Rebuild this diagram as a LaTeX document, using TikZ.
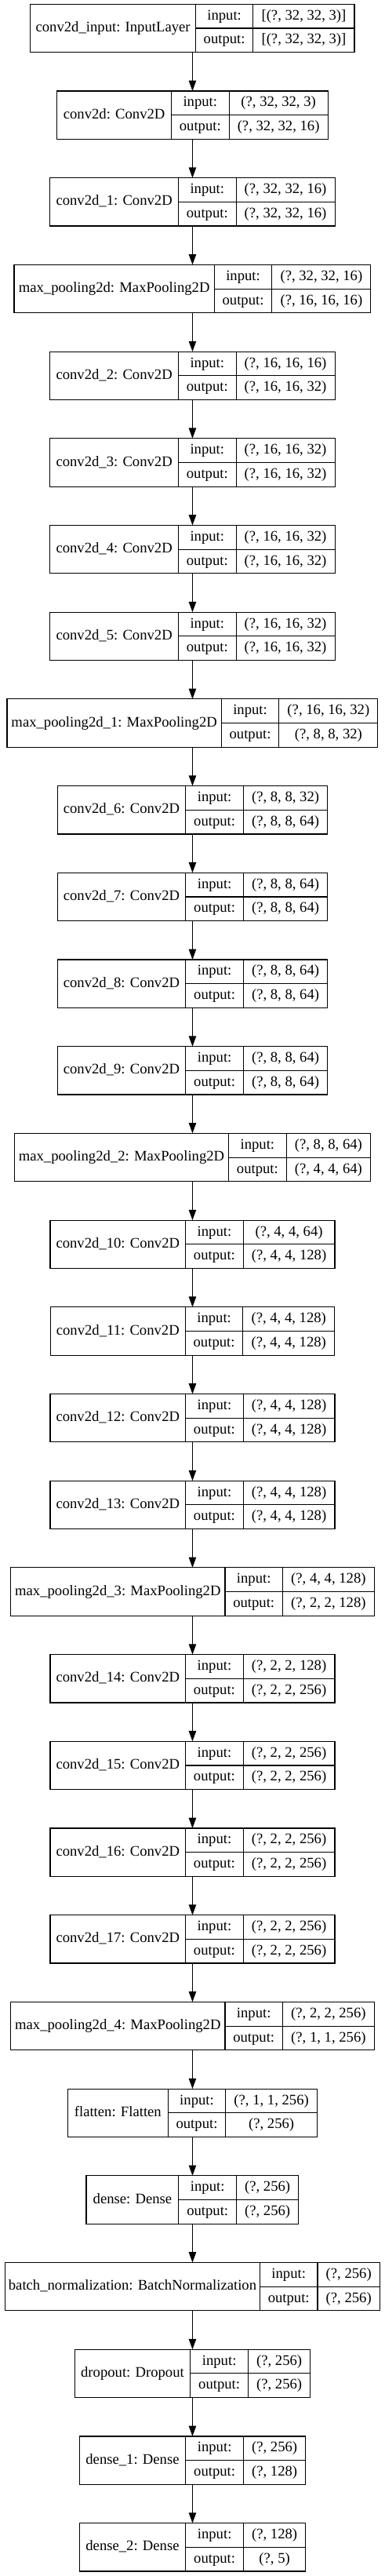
\documentclass[tikz,border=0pt]{standalone}
\usepackage{fontspec}
\setmainfont{Liberation Serif}
\usetikzlibrary{arrows.meta}
\newcommand\lf{\fontsize{14}{16.8}\selectfont}
\newlength\wa \newlength\wb \newlength\wc \newlength\wtmp \newlength\wtot
\tikzset{
  layer/.style={draw, line width=0.85pt, inner sep=0pt, outer sep=0pt, minimum height=46pt},
  cell/.style={line width=0.85pt},
  txt/.style={font=\lf, inner sep=0pt, text height=9.7pt, text depth=2.8pt},
  arr/.style={line width=1pt, -{Triangle[length=10pt,width=7pt]}}
}
\newcommand\measure[3]{%
  \pgfinterruptpicture
  \settowidth\wtmp{\normalfont\lf #1}\global\wa=0.96\wtmp
  \settowidth\wtmp{\normalfont\lf output:}\global\wb=\wtmp
  \settowidth\wtmp{\normalfont\lf #2}\global\wc=\wtmp
  \settowidth\wtmp{\normalfont\lf #3}%
  \ifdim\wtmp>\wc \global\wc=\wtmp\fi
  \endpgfinterruptpicture
}
\newcommand\layerbox[5]{%
  \measure{#3}{#4}{#5}%
  \addtolength\wa{16pt}\addtolength\wb{15.5pt}\addtolength\wc{16pt}%
  \setlength\wtot{\wa}\addtolength\wtot{\wb}\addtolength\wtot{\wc}%
  \pgfmathsetmacro\ytop{-(3.975+#2*83.025)}%
  \node[layer, minimum width=\wtot, anchor=north] (#1) at (184.1pt,\ytop pt) {};
  \draw[cell] ([xshift=\wa]#1.north west) -- ([xshift=\wa]#1.south west);
  \draw[cell] ([xshift={\wa+\wb}]#1.north west) -- ([xshift={\wa+\wb}]#1.south west);
  \draw[cell] ([xshift=\wa]#1.west) -- (#1.east);
  \node[txt] (#1n) at ([xshift=0.5\wa]#1.west) {#3};
  \node[txt] (#1a) at ([xshift={\wa+0.5\wb}, yshift=11.5pt]#1.west) {input:};
  \node[txt] (#1b) at ([xshift={\wa+0.5\wb}, yshift=-11.5pt]#1.west) {output:};
  \node[txt] (#1c) at ([xshift={\wa+\wb+0.5\wc}, yshift=11.5pt]#1.west) {#4};
  \node[txt] (#1d) at ([xshift={\wa+\wb+0.5\wc}, yshift=-11.5pt]#1.west) {#5};
}
\begin{document}
\begin{tikzpicture}
\useasboundingbox (0,0) rectangle (368.25pt,-2462.25pt);
\layerbox{L0}{0}{conv2d\_input: InputLayer}{[(?, 32, 32, 3)]}{[(?, 32, 32, 3)]}
\layerbox{L1}{1}{conv2d: Conv2D}{(?, 32, 32, 3)}{(?, 32, 32, 16)}
\layerbox{L2}{2}{conv2d\_1: Conv2D}{(?, 32, 32, 16)}{(?, 32, 32, 16)}
\layerbox{L3}{3}{max\_pooling2d: MaxPooling2D}{(?, 32, 32, 16)}{(?, 16, 16, 16)}
\layerbox{L4}{4}{conv2d\_2: Conv2D}{(?, 16, 16, 16)}{(?, 16, 16, 32)}
\layerbox{L5}{5}{conv2d\_3: Conv2D}{(?, 16, 16, 32)}{(?, 16, 16, 32)}
\layerbox{L6}{6}{conv2d\_4: Conv2D}{(?, 16, 16, 32)}{(?, 16, 16, 32)}
\layerbox{L7}{7}{conv2d\_5: Conv2D}{(?, 16, 16, 32)}{(?, 16, 16, 32)}
\layerbox{L8}{8}{max\_pooling2d\_1: MaxPooling2D}{(?, 16, 16, 32)}{(?, 8, 8, 32)}
\layerbox{L9}{9}{conv2d\_6: Conv2D}{(?, 8, 8, 32)}{(?, 8, 8, 64)}
\layerbox{L10}{10}{conv2d\_7: Conv2D}{(?, 8, 8, 64)}{(?, 8, 8, 64)}
\layerbox{L11}{11}{conv2d\_8: Conv2D}{(?, 8, 8, 64)}{(?, 8, 8, 64)}
\layerbox{L12}{12}{conv2d\_9: Conv2D}{(?, 8, 8, 64)}{(?, 8, 8, 64)}
\layerbox{L13}{13}{max\_pooling2d\_2: MaxPooling2D}{(?, 8, 8, 64)}{(?, 4, 4, 64)}
\layerbox{L14}{14}{conv2d\_10: Conv2D}{(?, 4, 4, 64)}{(?, 4, 4, 128)}
\layerbox{L15}{15}{conv2d\_11: Conv2D}{(?, 4, 4, 128)}{(?, 4, 4, 128)}
\layerbox{L16}{16}{conv2d\_12: Conv2D}{(?, 4, 4, 128)}{(?, 4, 4, 128)}
\layerbox{L17}{17}{conv2d\_13: Conv2D}{(?, 4, 4, 128)}{(?, 4, 4, 128)}
\layerbox{L18}{18}{max\_pooling2d\_3: MaxPooling2D}{(?, 4, 4, 128)}{(?, 2, 2, 128)}
\layerbox{L19}{19}{conv2d\_14: Conv2D}{(?, 2, 2, 128)}{(?, 2, 2, 256)}
\layerbox{L20}{20}{conv2d\_15: Conv2D}{(?, 2, 2, 256)}{(?, 2, 2, 256)}
\layerbox{L21}{21}{conv2d\_16: Conv2D}{(?, 2, 2, 256)}{(?, 2, 2, 256)}
\layerbox{L22}{22}{conv2d\_17: Conv2D}{(?, 2, 2, 256)}{(?, 2, 2, 256)}
\layerbox{L23}{23}{max\_pooling2d\_4: MaxPooling2D}{(?, 2, 2, 256)}{(?, 1, 1, 256)}
\layerbox{L24}{24}{flatten: Flatten}{(?, 1, 1, 256)}{(?, 256)}
\layerbox{L25}{25}{dense: Dense}{(?, 256)}{(?, 256)}
\layerbox{L26}{26}{batch\_normalization: BatchNormalization}{(?, 256)}{(?, 256)}
\layerbox{L27}{27}{dropout: Dropout}{(?, 256)}{(?, 256)}
\layerbox{L28}{28}{dense\_1: Dense}{(?, 256)}{(?, 128)}
\layerbox{L29}{29}{dense\_2: Dense}{(?, 128)}{(?, 5)}
\foreach \i [evaluate=\i as \j using int(\i+1)] in {0,...,28} {
  \draw[arr] (L\i.south) -- (L\j.north);
}
\end{tikzpicture}
\end{document}
